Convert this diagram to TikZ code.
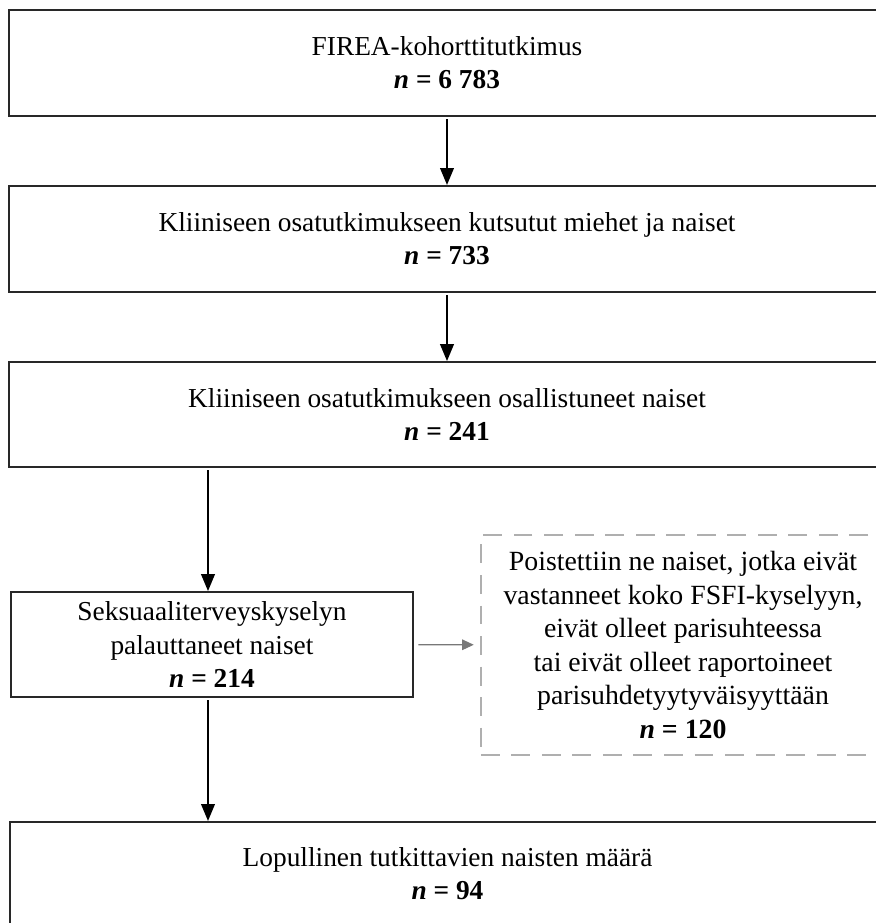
\documentclass[tikz,border=0pt]{standalone}
\usepackage{fontspec}
\setmainfont{Liberation Serif}
\usetikzlibrary{arrows.meta, positioning, calc}
\definecolor{boxline}{RGB}{40,40,40}
\definecolor{dashline}{RGB}{175,175,175}
\definecolor{sidegray}{RGB}{120,120,120}
\tikzset{
    box/.style={rectangle, draw=boxline, line width=1pt, inner sep=0pt, align=center, font=\fontsize{13}{15.8}\selectfont},
    sidebox/.style={rectangle, draw=dashline, line width=0.7pt, dash pattern=on 9pt off 5.5pt, inner sep=0pt, align=center, font=\fontsize{13.2}{15.9}\selectfont},
    arrow/.style={line width=0.75pt, -{Triangle[length=8pt, width=6.5pt]}, color=black, shorten <=1pt},
    sidearrow/.style={line width=0.55pt, -{Triangle[length=5.5pt, width=5pt]}, color=sidegray, shorten <=2pt, shorten >=3pt}
}
\newcommand{\ncount}[1]{\textbf{\textit{n} = #1}}

\begin{document}
\begin{tikzpicture}[x=0.0167cm, y=-0.0167cm]
    \useasboundingbox (0,0) rectangle (875,923);
    % Nodes
    \node (cohort) [box, minimum width=14.63cm, minimum height=1.77cm] at (447,63) {FIREA-kohorttitutkimus\\ \ncount{6 783}};
    \node (invited) [box, minimum width=14.63cm, minimum height=1.77cm] at (447,239) {Kliiniseen osatutkimukseen kutsutut miehet ja naiset\\ \ncount{733}};
    \node (participants) [box, minimum width=14.63cm, minimum height=1.75cm] at (447,414.5) {Kliiniseen osatutkimukseen osallistuneet naiset\\ \ncount{241}};
    \node (survey) [box, minimum width=6.71cm, minimum height=1.75cm] at (212,644.5) {Seksuaaliterveyskyselyn\\ palauttaneet naiset\\ \ncount{214}};
    \node (excluded) [sidebox, minimum width=6.75cm, minimum height=3.67cm] at (683,645) {Poistettiin ne naiset, jotka eivät\\ vastanneet koko FSFI-kyselyyn,\\ eivät olleet parisuhteessa\\ tai eivät olleet raportoineet\\ parisuhdetyytyväisyyttään\\ \ncount{120}};
    \node (final) [box, minimum width=14.61cm, minimum height=1.72cm] at (447.5,873.5) {Lopullinen tutkittavien naisten määrä\\ \ncount{94}};

    % Arrows
    \draw [arrow] (cohort) -- (invited);
    \draw [arrow] (invited) -- (participants);
    \draw [arrow] (participants.south -| survey.north) ++(-4,0) coordinate (a) -- (a |- survey.north);
    \draw [arrow] (survey.south) ++(-4,0) coordinate (b) -- (b |- final.north);
    \draw [sidearrow] (survey) -- (excluded);
\end{tikzpicture}
\end{document}
